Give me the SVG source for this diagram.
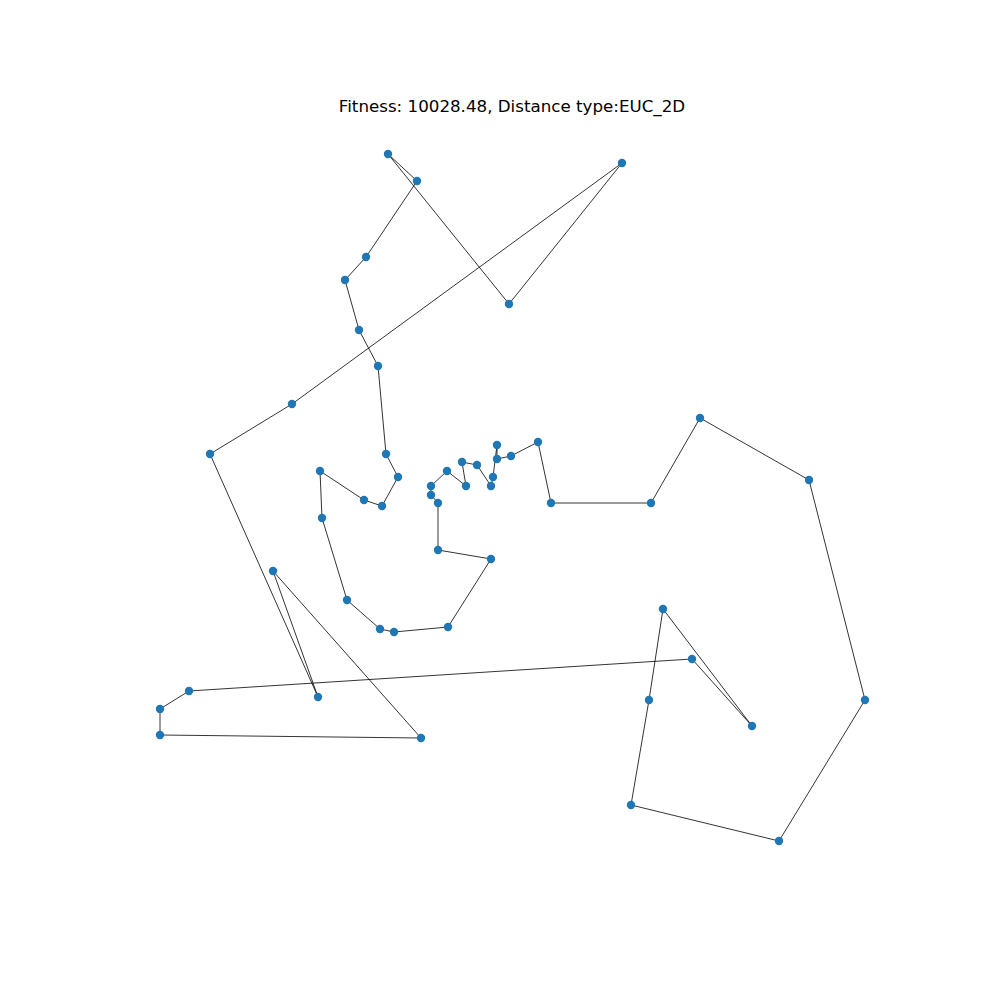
<svg xmlns="http://www.w3.org/2000/svg" width="1000" height="1000" viewBox="0 0 1000 1000">
<style>
.e{stroke:#000;stroke-width:0.8;fill:none}
.n{fill:#1f77b4}
.t{font-family:"DejaVu Sans",sans-serif;font-size:16.7px;fill:#000}
</style>
<rect width="1000" height="1000" fill="#fff"/>
<text class="t" x="512" y="112" text-anchor="middle">Fitness: 10028.48, Distance type:EUC_2D</text>
<g id="connectors">
<polyline class="e" points="622,163 509,304 388,154 417,181 366,257 345,280 359,330 378,366 386,454 398,477 382,506 364,500 320,471 322,518 347,600 380,629 394,632 448,627 491,559 438,550 438,503 431,495 431,486 447,471 466,486 462,462 477,465 491,486 493,477 497,445 497,459 511,456 538,442 551,503 651,503 700,418 809,480 865,700 779,841 631,805 649,700 663,609 752,726 692,659 189,691 160,709 160,735 421,738 273,571 318,697 210,454 292,404 622,163"/>
</g>
<g id="nodes">
<circle id="n1" class="n" cx="388" cy="154" r="4.2"/>
<circle id="n2" class="n" cx="417" cy="181" r="4.2"/>
<circle id="n3" class="n" cx="622" cy="163" r="4.2"/>
<circle id="n4" class="n" cx="509" cy="304" r="4.2"/>
<circle id="n5" class="n" cx="366" cy="257" r="4.2"/>
<circle id="n6" class="n" cx="345" cy="280" r="4.2"/>
<circle id="n7" class="n" cx="359" cy="330" r="4.2"/>
<circle id="n8" class="n" cx="378" cy="366" r="4.2"/>
<circle id="n9" class="n" cx="292" cy="404" r="4.2"/>
<circle id="n10" class="n" cx="210" cy="454" r="4.2"/>
<circle id="n11" class="n" cx="386" cy="454" r="4.2"/>
<circle id="n12" class="n" cx="398" cy="477" r="4.2"/>
<circle id="n13" class="n" cx="382" cy="506" r="4.2"/>
<circle id="n14" class="n" cx="364" cy="500" r="4.2"/>
<circle id="n15" class="n" cx="320" cy="471" r="4.2"/>
<circle id="n16" class="n" cx="322" cy="518" r="4.2"/>
<circle id="n17" class="n" cx="347" cy="600" r="4.2"/>
<circle id="n18" class="n" cx="380" cy="629" r="4.2"/>
<circle id="n19" class="n" cx="394" cy="632" r="4.2"/>
<circle id="n20" class="n" cx="448" cy="627" r="4.2"/>
<circle id="n21" class="n" cx="491" cy="559" r="4.2"/>
<circle id="n22" class="n" cx="438" cy="550" r="4.2"/>
<circle id="n23" class="n" cx="438" cy="503" r="4.2"/>
<circle id="n24" class="n" cx="431" cy="495" r="4.2"/>
<circle id="n25" class="n" cx="431" cy="486" r="4.2"/>
<circle id="n26" class="n" cx="447" cy="471" r="4.2"/>
<circle id="n27" class="n" cx="466" cy="486" r="4.2"/>
<circle id="n28" class="n" cx="462" cy="462" r="4.2"/>
<circle id="n29" class="n" cx="477" cy="465" r="4.2"/>
<circle id="n30" class="n" cx="491" cy="486" r="4.2"/>
<circle id="n31" class="n" cx="493" cy="477" r="4.2"/>
<circle id="n32" class="n" cx="497" cy="459" r="4.2"/>
<circle id="n33" class="n" cx="497" cy="445" r="4.2"/>
<circle id="n34" class="n" cx="511" cy="456" r="4.2"/>
<circle id="n35" class="n" cx="538" cy="442" r="4.2"/>
<circle id="n36" class="n" cx="551" cy="503" r="4.2"/>
<circle id="n37" class="n" cx="651" cy="503" r="4.2"/>
<circle id="n38" class="n" cx="700" cy="418" r="4.2"/>
<circle id="n39" class="n" cx="809" cy="480" r="4.2"/>
<circle id="n40" class="n" cx="865" cy="700" r="4.2"/>
<circle id="n41" class="n" cx="779" cy="841" r="4.2"/>
<circle id="n42" class="n" cx="631" cy="805" r="4.2"/>
<circle id="n43" class="n" cx="649" cy="700" r="4.2"/>
<circle id="n44" class="n" cx="663" cy="609" r="4.2"/>
<circle id="n45" class="n" cx="752" cy="726" r="4.2"/>
<circle id="n46" class="n" cx="692" cy="659" r="4.2"/>
<circle id="n47" class="n" cx="189" cy="691" r="4.2"/>
<circle id="n48" class="n" cx="160" cy="709" r="4.2"/>
<circle id="n49" class="n" cx="160" cy="735" r="4.2"/>
<circle id="n50" class="n" cx="421" cy="738" r="4.2"/>
<circle id="n51" class="n" cx="273" cy="571" r="4.2"/>
<circle id="n52" class="n" cx="318" cy="697" r="4.2"/>
</g>
</svg>
